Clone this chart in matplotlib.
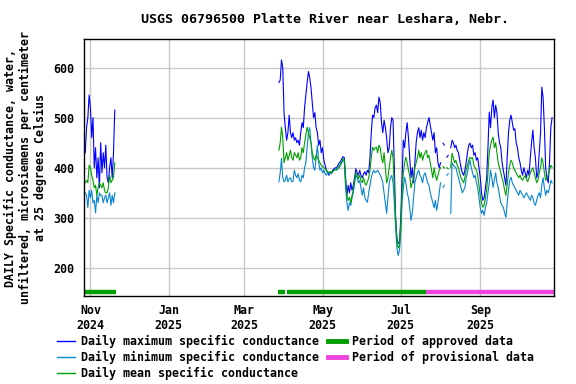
import numpy as np
import pandas as pd
import matplotlib
matplotlib.use('Agg')
import matplotlib.pyplot as plt
from matplotlib.lines import Line2D

nan = np.nan

# first record: Oct 28 - Nov 20 2024
start1 = '2024-10-28'
max1 = [430, 480, 500, 545, 520, 460, 500, 400, 440, 380,
        420, 360, 450, 390, 430, 400, 445, 380, 370, 400,
        420, 380, 430, 515]
min1 = [350, 345, 320, 355, 340, 355, 330, 335, 310, 345,
        330, 350, 345, 345, 330, 340, 345, 330, 340, 350,
        325, 345, 330, 350]
mean1 = [370, 375, 370, 405, 400, 385, 375, 360, 365, 345,
         360, 370, 365, 360, 370, 355, 350, 350, 360, 385,
         370, 375, 380, 410]

# second record: from Mar 28 2025
start2 = '2025-03-28'
max2 = [570, 575, 615, 600, 509, 480, 455, 470, 505, 470,
        460, 470, 455, 460, 450, 455, 445, 470, 490, 480,
        520, 545, 570, 592, 580, 560, 530, 500, 510, 480,
        470, 445, 455, 430, 440, 415, 405, 395, 390, 385,
        392, 390, 395, 398, 400, 400, 405, 410, 412, 418,
        422, 420, 380, 345, 365, 350, 370, 355, 365, 380,
        398, 390, 385, 395, 385, 380, 388, 392, 385, 395,
        390, 420, 470, 505, 500, 520, 525, 510, 541, 530,
        490, 470, 495, 480, 460, 430, 440, 480, 500, 495,
        400, 300, 260, 250, 249, 300, 380, 455, 440, 470,
        490, 460, 420, 380, 400, 370, 410, 450, 470, 480,
        460, 475, 455, 470, 460, 480, 490, 500, 485, 470,
        455, 470, 430, 440, 410, 400, 410, nan, 449, 445,
        nan, 421, 425, nan, 440, 455, 450, 440, 445, 435,
        430, 415, 400, 390, 385, 395, 410, 430, 445, 449,
        440, 445, 425, 430, 415, 420, 400, 380, 350, 335,
        340, 360, 380, 440, 511, 480, 520, 535, 500, 525,
        510, 470, 450, 440, 410, 395, 380, 365, 420, 470,
        495, 505, 490, 475, 478, 450, 440, 420, 410, 395,
        385, 400, 390, 380, 395, 385, 420, 450, 475, 440,
        420, 380, 390, 430, 470, 561, 540, 480, 400, 380,
        370, 410, 480, 500]
min2 = [372, 390, 419, 380, 372, 375, 385, 372, 378, 380,
        372, 373, 395, 385, 380, 388, 375, 372, 385, 380,
        400, 410, 440, 470, 480, 450, 420, 400, 395, 420,
        445, 410, 395, 400, 390, 395, 388, 385, 392, 388,
        390, 388, 392, 395, 397, 395, 398, 400, 405, 410,
        415, 412, 360, 330, 315, 330, 325, 340, 350, 370,
        385, 380, 370, 375, 360, 345, 360, 340, 335, 331,
        350, 365, 380, 390, 395, 390, 392, 395, 390, 385,
        380, 370, 350, 330, 309, 340, 370, 380, 385, 370,
        330, 280, 240, 225, 235, 270, 330, 360, 381, 370,
        350, 340, 320, 295, 310, 340, 370, 380, 390, 395,
        385, 380, 370, 385, 390, 380, 370, 365, 350, 340,
        330, 320, 335, 315, 330, 350, 370, nan, 361, 365,
        nan, 385, 388, nan, 309, 410, 405, 402, 400, 390,
        380, 370, 360, 350, 355, 360, 380, 390, 405, 415,
        400, 390, 380, 385, 370, 360, 340, 320, 309, 315,
        305, 320, 330, 350, 370, 395, 380, 361, 375, 390,
        370, 360, 345, 330, 325, 321, 310, 301, 330, 355,
        375, 381, 370, 365, 360, 355, 350, 345, 355, 350,
        345, 340, 345, 350, 345, 340, 335, 345, 340, 330,
        325, 335, 345, 350, 340, 365, 380, 360, 345, 355,
        350, 360, 375, 370]
mean2 = [435, 450, 481, 460, 410, 420, 430, 415, 425, 435,
         420, 415, 430, 425, 420, 430, 415, 420, 440, 430,
         450, 465, 481, 470, 460, 450, 430, 420, 415, 425,
         420, 415, 410, 405, 402, 400, 398, 395, 392, 390,
         392, 390, 393, 395, 396, 397, 400, 403, 408, 412,
         418, 415, 370, 345, 335, 341, 330, 345, 355, 375,
         390, 385, 378, 385, 375, 370, 380, 370, 365, 372,
         380, 395, 420, 441, 435, 440, 441, 430, 445, 440,
         420, 410, 430, 400, 370, 380, 400, 420, 435, 420,
         360, 300, 255, 240, 245, 285, 350, 390, 410, 421,
         410, 395, 385, 360, 370, 380, 400, 410, 420, 435,
         420, 430, 415, 425, 430, 435, 420, 425, 410, 395,
         380, 400, 385, 375, 385, 395, 400, nan, 402, 400,
         nan, 400, 398, nan, 400, 429, 420, 410, 415, 405,
         400, 390, 380, 375, 370, 380, 395, 405, 415, 421,
         418, 420, 405, 400, 395, 385, 365, 345, 330, 321,
         325, 340, 355, 390, 430, 445, 455, 461, 440, 450,
         430, 410, 400, 390, 380, 370, 355, 345, 365, 390,
         405, 415, 410, 400, 395, 390, 385, 380, 385, 378,
         375, 380, 385, 378, 372, 380, 390, 395, 400, 390,
         380, 370, 375, 390, 400, 420, 410, 390, 375, 380,
         385, 395, 405, 401]

approved = [('2024-10-27', '2024-11-21'), ('2025-03-27', '2025-04-02'),
            ('2025-04-03', '2025-07-21')]
provisional = [('2025-07-21', '2025-10-28 12:00')]

d1 = pd.date_range(start1, periods=len(max1), freq='D')
d2 = pd.date_range(start2, periods=len(max2), freq='D')
dates = d1.append(pd.DatetimeIndex([pd.Timestamp('2024-11-21')])).append(d2)
gap = [nan]
vmax = np.array(max1 + gap + max2, dtype=float)
vmin = np.array(min1 + gap + min2, dtype=float)
vmean = np.array(mean1 + gap + mean2, dtype=float)

c_max = '#0000FF'
c_min = '#0A85D0'
c_mean = '#00A000'
c_appr = '#009F00'
c_prov = '#EE44DD'

plt.rcParams['font.family'] = 'DejaVu Sans Mono'
plt.rcParams['font.weight'] = 'bold'
plt.rcParams['font.size'] = 8.4

fig = plt.figure(figsize=(5.76, 3.84), dpi=100)
ax = fig.add_axes([84 / 576, 1 - 296 / 384, 470 / 576, 257 / 384])

ax.plot(dates, vmax, color=c_max, lw=0.8)
ax.plot(dates, vmin, color=c_min, lw=0.8)
ax.plot(dates, vmean, color=c_mean, lw=0.8)

for s, e in approved:
    ax.plot([pd.Timestamp(s), pd.Timestamp(e)], [151, 151], color=c_appr,
            lw=3.2, solid_capstyle='butt')
for s, e in provisional:
    ax.plot([pd.Timestamp(s), pd.Timestamp(e)], [151, 151], color=c_prov,
            lw=3.2, solid_capstyle='butt')

ax.set_xlim(pd.Timestamp('2024-10-27'), pd.Timestamp('2025-10-28 12:00'))
ax.set_ylim(144, 657)
ax.set_yticks([200, 300, 400, 500, 600])
xt = pd.to_datetime(['2024-11-01', '2025-01-01', '2025-03-01', '2025-05-01',
                     '2025-07-01', '2025-09-01'])
ax.set_xticks(xt)
ax.set_xticklabels([d.strftime('%b\n%Y') for d in xt], linespacing=1.2)
ax.tick_params(axis='both', length=0)
ax.tick_params(axis='x', pad=6)
ax.tick_params(axis='y', pad=7)
ax.grid(True, color='#C8C8C8', lw=1)
ax.set_axisbelow(True)
for sp in ax.spines.values():
    sp.set_color('black')
    sp.set_linewidth(1)

fig.text(0.564, 0.948, 'USGS 06796500 Platte River near Leshara, Nebr.',
         ha='center', va='center', fontsize=9.6, fontweight='bold')
fig.text(0.044, 0.5635,
         'DAILY Specific conductance, water,\n'
         'unfiltered, microsiemens per centimeter\n'
         'at 25 degrees Celsius',
         rotation=90, ha='center', va='center', linespacing=1.2)

handles = [Line2D([], [], color=c_max, lw=1),
           Line2D([], [], color=c_min, lw=1),
           Line2D([], [], color=c_mean, lw=1),
           Line2D([], [], color=c_appr, lw=3.5),
           Line2D([], [], color=c_prov, lw=3.5)]
labels = ['Daily maximum specific conductance',
          'Daily minimum specific conductance',
          'Daily mean specific conductance',
          'Period of approved data',
          'Period of provisional data']
fig.legend(handles, labels, ncol=2, loc='upper left',
           bbox_to_anchor=(57 / 576, 1 - 335 / 384), frameon=False,
           borderpad=0, borderaxespad=0, handlelength=1.55,
           handletextpad=0.5, columnspacing=0.75, labelspacing=0.25)

fig.savefig('out.png', dpi=100)
